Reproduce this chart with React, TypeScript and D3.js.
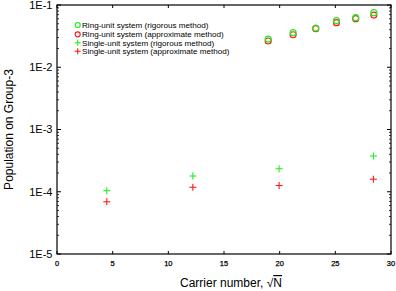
import React from "react";
import * as d3 from "d3";

const ringX = [18.97, 21.21, 23.24, 25.1, 26.83, 28.46];
const ringRigorous = [0.0284, 0.0359, 0.0427, 0.056, 0.0625, 0.0752];
const ringApprox = [0.0264, 0.0333, 0.0416, 0.052, 0.0603, 0.069];
const singleX = [4.47, 12.2, 19.95, 28.42];
const singleRigorous = [1.04e-4, 1.79e-4, 2.34e-4, 3.75e-4];
const singleApprox = [6.9e-5, 1.18e-4, 1.26e-4, 1.59e-4];
const xTicks = [0, 5, 10, 15, 20, 25, 30];
const yTicks = [1e-5, 1e-4, 1e-3, 1e-2, 1e-1];
const yTickLabels = ["1E-5", "1E-4", "1E-3", "1E-2", "1E-1"];
const legendLabels = [
  "Ring-unit system (rigorous method)",
  "Ring-unit system (approximate method)",
  "Single-unit system (rigorous method)",
  "Single-unit system (approximate method)",
];

const GREEN = "#22ee22";
const RED = "#ff1a1a";

export default function App() {
  const W = 396, H = 291;
  const left = 57, right = 391, top = 5, bottom = 254;
  const x = d3.scaleLinear().domain([0, 30]).range([left, right]);
  const y = d3.scaleLog().domain([1e-5, 1e-1]).range([bottom, top]);
  const font = "Liberation Sans, Arial, sans-serif";

  const minor: number[] = [];
  for (let e = -5; e < -1; e++) {
    for (let m = 2; m <= 9; m++) minor.push(m * Math.pow(10, e));
  }

  const plus = (cx: number, cy: number, color: string, s = 3.5, key?: string) => (
    <g key={key} stroke={color} strokeWidth={1.1}>
      <line x1={cx - s} x2={cx + s} y1={cy} y2={cy} />
      <line x1={cx} x2={cx} y1={cy - s} y2={cy + s} />
    </g>
  );

  const legendY = [25, 34.3, 42.8, 51.2];
  const legendX = 77.7;

  return (
    <div style={{ position: "fixed", left: 0, top: 0 }}>
      <svg width={W} height={H} style={{ display: "block", background: "#fff" }}>
        {minor.map((v, i) => (
          <g key={"mn" + i} stroke="#000" strokeWidth={0.8}>
            <line x1={left} x2={left + 2} y1={y(v)} y2={y(v)} />
            <line x1={right} x2={right - 2} y1={y(v)} y2={y(v)} />
          </g>
        ))}
        {yTicks.map((v, i) => (
          <g key={"yt" + i}>
            <line x1={left} x2={left + 4} y1={y(v)} y2={y(v)} stroke="#000" strokeWidth={1} />
            <line x1={right} x2={right - 4} y1={y(v)} y2={y(v)} stroke="#000" strokeWidth={1} />
            <text x={52.5} y={y(v)} dy="0.36em" textAnchor="end" fontFamily={font} fontSize={11} fill="#000">
              {yTickLabels[i]}
            </text>
          </g>
        ))}
        {xTicks.map((v, i) => (
          <g key={"xt" + i}>
            <line x1={x(v)} x2={x(v)} y1={bottom} y2={bottom - 3} stroke="#000" strokeWidth={1} />
            <line x1={x(v)} x2={x(v)} y1={top} y2={top + 3} stroke="#000" strokeWidth={1} />
            <text x={x(v)} y={266} textAnchor="middle" fontFamily={font} fontSize={7.5} fill="#000" stroke="#000" strokeWidth={0.25}>
              {v}
            </text>
          </g>
        ))}
        <rect x={left} y={top} width={right - left} height={bottom - top} fill="none" stroke="#000" strokeWidth={1.2} />

        {ringX.map((v, i) => (
          <circle key={"rr" + i} cx={x(v)} cy={y(ringApprox[i])} r={3} fill="none" stroke={RED} strokeWidth={1.2} />
        ))}
        {ringX.map((v, i) => (
          <circle key={"rg" + i} cx={x(v)} cy={y(ringRigorous[i])} r={3} fill="none" stroke={GREEN} strokeWidth={1.2} />
        ))}
        {singleX.map((v, i) => plus(x(v), y(singleRigorous[i]), GREEN, 3.5, "sg" + i))}
        {singleX.map((v, i) => plus(x(v), y(singleApprox[i]), RED, 3.5, "sr" + i))}

        <circle cx={legendX} cy={legendY[0]} r={2.5} fill="none" stroke={GREEN} strokeWidth={1.2} />
        <circle cx={legendX} cy={legendY[1]} r={2.5} fill="none" stroke={RED} strokeWidth={1.2} />
        {plus(legendX, legendY[2], GREEN, 3)}
        {plus(legendX, legendY[3], RED, 3)}
        {legendLabels.map((l, i) => (
          <text key={"lg" + i} x={82} y={legendY[i]} dy="0.35em" fontFamily={font} fontSize={8.1} fill="#000">
            {l}
          </text>
        ))}

        <text x={231} y={287} textAnchor="middle" fontFamily={font} fontSize={12} fill="#000">
          Carrier number, √<tspan style={{ textDecoration: "overline" }}>N</tspan>
        </text>
        <text transform={`translate(13,${(top + bottom) / 2}) rotate(-90)`} textAnchor="middle" fontFamily={font} fontSize={12} fill="#000">
          Population on Group-3
        </text>
      </svg>
    </div>
  );
}
